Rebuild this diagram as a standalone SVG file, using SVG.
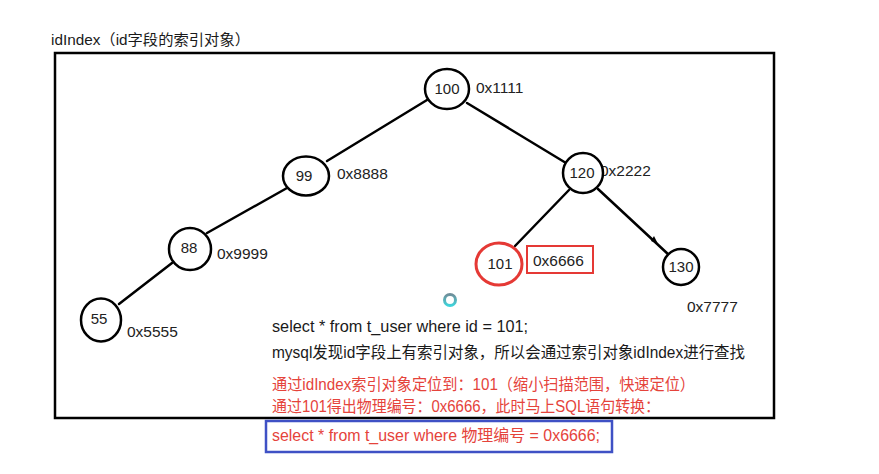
<svg xmlns="http://www.w3.org/2000/svg" width="879" height="474" viewBox="0 0 879 474">
<style>
  .t { font-family: "Liberation Sans", "Noto Sans CJK SC", sans-serif; fill: #1a1a1a; }
  .red { fill: #e5433b; }
  .node { fill: #fff; stroke: #000; stroke-width: 2.5; }
  .nl { font-family: "Liberation Sans", "Noto Sans CJK SC", sans-serif; font-size: 15px; fill: #222; text-anchor: middle; }
  .addr { font-family: "Liberation Sans", "Noto Sans CJK SC", sans-serif; font-size: 15.5px; fill: #222; }
  .edge { stroke: #000; stroke-width: 2.5; fill: none; stroke-linecap: round; }
</style>
<defs>
  <linearGradient id="spin" x1="0" y1="0" x2="0" y2="1">
    <stop offset="0" stop-color="#6f8f9a"/>
    <stop offset="1" stop-color="#3fd3da"/>
  </linearGradient>
</defs>
<rect width="879" height="474" fill="#fff"/>

<text class="t" x="51" y="45" font-size="15" textLength="199" lengthAdjust="spacingAndGlyphs">idIndex（id字段的索引对象）</text>

<rect id="frame" x="55" y="53" width="719" height="365" fill="none" stroke="#000" stroke-width="2.5"/>

<g id="connectors">
  <line class="edge" x1="427" y1="100" x2="327" y2="161"/>
  <line class="edge" x1="287" y1="188" x2="207" y2="233"/>
  <line class="edge" x1="172" y1="263" x2="119" y2="304"/>
  <line class="edge" x1="467" y1="103" x2="566" y2="163"/>
  <line class="edge" x1="569" y1="190" x2="515" y2="246"/>
  <line class="edge" x1="598" y1="189" x2="669" y2="255"/>
  <path d="M654,236 L658,244 L651,241 Z" fill="#000"/>
</g>

<g id="n100">
  <ellipse class="node" cx="447" cy="89" rx="22" ry="20"/>
  <text class="nl" x="447" y="94">100</text>
  <text class="addr" x="476" y="93">0x1111</text>
</g>
<g id="n99">
  <ellipse class="node" cx="306" cy="176" rx="23" ry="19.5"/>
  <text class="nl" x="304" y="181">99</text>
  <text class="addr" x="337" y="179">0x8888</text>
</g>
<g id="n88">
  <ellipse class="node" cx="190" cy="249" rx="21" ry="21"/>
  <text class="nl" x="189" y="253">88</text>
  <text class="addr" x="217" y="259">0x9999</text>
</g>
<g id="n55">
  <ellipse class="node" cx="101" cy="320" rx="20" ry="21.5"/>
  <text class="nl" x="99" y="324">55</text>
  <text class="addr" x="127" y="337">0x5555</text>
</g>
<g id="n120">
  <text class="addr" x="600" y="176">0x2222</text>
  <ellipse class="node" cx="583" cy="173" rx="20" ry="20"/>
  <text class="nl" x="582" y="178">120</text>
</g>
<g id="n101">
  <ellipse cx="499" cy="264" rx="23" ry="21" fill="#fff" stroke="#e53935" stroke-width="3"/>
  <text class="nl" x="500" y="269">101</text>
  <rect x="527" y="246" width="66" height="27" fill="none" stroke="#e53935" stroke-width="2"/>
  <text class="addr" x="533" y="266">0x6666</text>
</g>
<g id="n130">
  <ellipse class="node" cx="681" cy="267" rx="18" ry="18"/>
  <text class="nl" x="681" y="272">130</text>
  <text class="addr" x="687" y="312">0x7777</text>
</g>

<circle cx="450" cy="300" r="5.5" fill="none" stroke="url(#spin)" stroke-width="3"/>

<g id="notes">
  <text class="t" x="272" y="332" font-size="16" textLength="256" lengthAdjust="spacingAndGlyphs">select * from t_user where id = 101;</text>
  <text class="t" x="272" y="358" font-size="16" textLength="473" lengthAdjust="spacingAndGlyphs">mysql发现id字段上有索引对象，所以会通过索引对象idIndex进行查找</text>
  <text class="t red" x="272" y="390" font-size="16" textLength="423" lengthAdjust="spacingAndGlyphs">通过idIndex索引对象定位到：101（缩小扫描范围，快速定位）</text>
  <text class="t red" x="272" y="412" font-size="16" textLength="388" lengthAdjust="spacingAndGlyphs">通过101得出物理编号：0x6666，此时马上SQL语句转换：</text>
  <rect x="266" y="421" width="346" height="31" fill="none" stroke="#3f51c5" stroke-width="2.5"/>
  <text class="t red" x="272" y="441" font-size="16" textLength="328" lengthAdjust="spacingAndGlyphs">select * from t_user where 物理编号 = 0x6666;</text>
</g>
</svg>
